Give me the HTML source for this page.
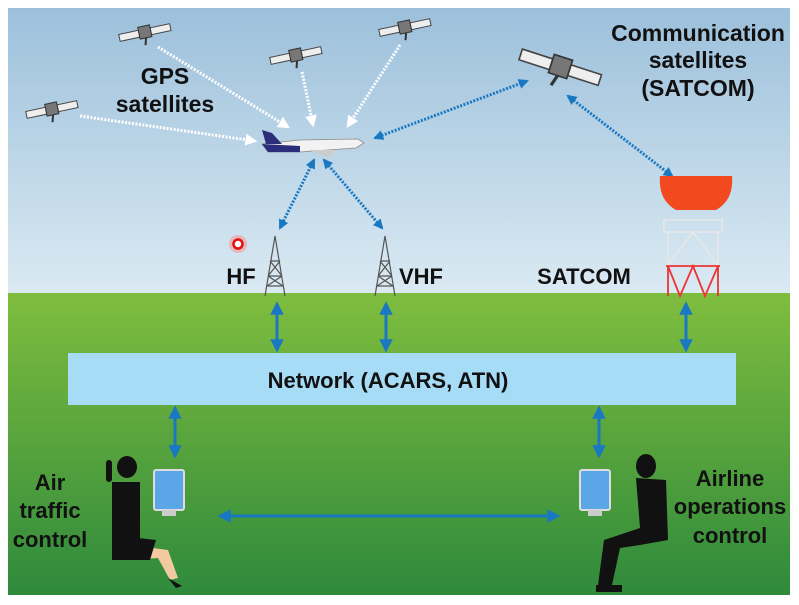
<!DOCTYPE html>
<html><head><meta charset="utf-8"><style>
html,body{margin:0;padding:0;background:#fff;}
svg{display:block}
text{font-family:"Liberation Sans",sans-serif;font-weight:bold;fill:#111;}
</style></head><body>
<svg width="799" height="605" viewBox="0 0 799 605" xmlns="http://www.w3.org/2000/svg">
<defs>
<linearGradient id="sky" x1="0" y1="0" x2="0" y2="1"><stop offset="0" stop-color="#9cc0db"/><stop offset="1" stop-color="#dbeaf3"/></linearGradient>
<linearGradient id="grass" x1="0" y1="0" x2="0" y2="1"><stop offset="0" stop-color="#7fbd3e"/><stop offset="1" stop-color="#2f8a3c"/></linearGradient>
<marker id="ab" viewBox="0 0 10 10" refX="8" refY="5" markerWidth="4.5" markerHeight="4.5" orient="auto-start-reverse"><path d="M0,0L10,5L0,10z" fill="#1a78c2"/></marker>
<marker id="aw" viewBox="0 0 10 10" refX="8" refY="5" markerWidth="4" markerHeight="4" orient="auto"><path d="M0,0L10,5L0,10z" fill="#fff"/></marker>
<marker id="sb" viewBox="0 0 10 10" refX="8" refY="5" markerWidth="3.4" markerHeight="3.4" orient="auto-start-reverse"><path d="M0,0L10,5L0,10z" fill="#1a78c2"/></marker>
<g id="sat"><rect x="-26" y="-4" width="20" height="7" fill="#eee" stroke="#444" stroke-width="1"/><rect x="6" y="-4" width="20" height="7" fill="#eee" stroke="#444" stroke-width="1"/><rect x="-6" y="-7" width="12" height="12" fill="#777" stroke="#333"/><line x1="0" y1="5" x2="-2" y2="12" stroke="#333" stroke-width="2"/></g>
<g id="tower" fill="none" stroke="#555" stroke-width="1.2"><path d="M-10,60L0,0L10,60M-7,40L7,40M-5,25L5,25M-8,50L8,50M-7,40L5,25M7,40L-5,25M-8,50L7,40M8,50L-7,40"/></g>
</defs>
<rect x="8" y="8" width="782" height="287" fill="url(#sky)"/>
<rect x="8" y="293" width="782" height="302" fill="url(#grass)"/>

<g stroke="#fff" stroke-width="3" stroke-dasharray="2 1.5" fill="none" marker-end="url(#aw)">
<line x1="80" y1="116" x2="255" y2="141"/>
<line x1="158" y1="47" x2="288" y2="127"/>
<line x1="302" y1="72" x2="313" y2="125"/>
<line x1="400" y1="45" x2="348" y2="126"/>
</g>
<use href="#sat" transform="translate(52,110) rotate(-12)"/>
<use href="#sat" transform="translate(145,33) rotate(-12)"/>
<use href="#sat" transform="translate(296,56) rotate(-12)"/>
<use href="#sat" transform="translate(405,28) rotate(-12)"/>
<use href="#sat" transform="translate(560,68) rotate(18) scale(1.6)"/>

<g stroke="#1a78c2" stroke-width="3" stroke-dasharray="2 1.5" fill="none" marker-start="url(#sb)" marker-end="url(#sb)">
<line x1="375" y1="138" x2="527" y2="81"/>
<line x1="568" y1="96" x2="672" y2="176"/>
<line x1="314" y1="160" x2="280" y2="228"/>
<line x1="324" y1="160" x2="382" y2="228"/>
</g>

<path d="M262,144 L300,140 L358,139 L364,143 L356,148 L300,152 L268,152 Z" fill="#f2f2f2" stroke="#888" stroke-width="0.8"/>
<path d="M262,144 L300,146 L300,152 L268,152 Z" fill="#2b2e7a"/>
<path d="M262,130 L272,133 L282,144 L266,144 Z" fill="#2b2e7a"/>
<path d="M308,150 L330,158 L334,150 Z" fill="#ccc"/>

<use href="#tower" transform="translate(275,236)"/>
<use href="#tower" transform="translate(385,236)"/>
<circle cx="238" cy="244" r="9" fill="#f59a9a" opacity="0.6"/>
<circle cx="238" cy="244" r="4.5" fill="#fff" stroke="#e01010" stroke-width="2.5"/>

<path d="M660,176 L732,176 Q734,200 716,210 L676,210 Q658,200 660,176 Z" fill="#f24a1e"/>
<g stroke="#e8e8e8" stroke-width="1.5" fill="none"><rect x="664" y="220" width="58" height="12"/><path d="M668,232L668,265M718,232L718,265M668,265L693,232L718,265"/></g>
<g stroke="#e33" stroke-width="1.8" fill="none"><path d="M666,266L720,266M668,266L668,296M718,266L718,296M668,266L680,296L693,266L705,296L718,266"/></g>

<text x="165" y="84" font-size="23" text-anchor="middle">GPS</text>
<text x="165" y="112" font-size="23" text-anchor="middle">satellites</text>
<text x="698" y="41" font-size="23" text-anchor="middle">Communication</text>
<text x="698" y="68" font-size="23" text-anchor="middle">satellites</text>
<text x="698" y="96" font-size="23" text-anchor="middle">(SATCOM)</text>
<text x="241" y="284" font-size="22" text-anchor="middle">HF</text>
<text x="421" y="284" font-size="22" text-anchor="middle">VHF</text>
<text x="584" y="284" font-size="22" text-anchor="middle">SATCOM</text>

<rect x="68" y="353" width="668" height="52" fill="#a6dcf5"/>
<text x="388" y="388" font-size="22" text-anchor="middle">Network (ACARS, ATN)</text>

<g stroke="#1a78c2" stroke-width="3" marker-start="url(#ab)" marker-end="url(#ab)">
<line x1="277" y1="304" x2="277" y2="350"/>
<line x1="386" y1="304" x2="386" y2="350"/>
<line x1="686" y1="304" x2="686" y2="350"/>
<line x1="175" y1="408" x2="175" y2="456"/>
<line x1="599" y1="408" x2="599" y2="456"/>
<line x1="220" y1="516" x2="558" y2="516"/>
</g>

<g>
<rect x="154" y="470" width="30" height="40" rx="2" fill="#5aa6e6" stroke="#ddd" stroke-width="2"/>
<rect x="162" y="510" width="14" height="6" fill="#ccc"/>
<rect x="580" y="470" width="30" height="40" rx="2" fill="#5aa6e6" stroke="#ddd" stroke-width="2"/>
<rect x="588" y="510" width="14" height="6" fill="#ccc"/>
<ellipse cx="127" cy="467" rx="10" ry="11" fill="#111"/>
<rect x="106" y="460" width="6" height="22" rx="3" fill="#111"/>
<path d="M112,482 L140,482 L140,550 L112,550 Z" fill="#111"/>
<path d="M130,545 L168,550 L178,578 L170,580 L158,558 L130,560Z" fill="#f2c9a0"/>
<path d="M112,535 L156,540 L150,560 L112,560 Z" fill="#111"/>
<path d="M168,578 L182,586 L176,588 Z" fill="#111"/>
<ellipse cx="646" cy="466" rx="10" ry="12" fill="#111"/>
<path d="M636,478 L666,480 L668,540 L640,545 L620,548 L612,585 L598,585 L604,540 L640,528 Z" fill="#111"/>
<path d="M596,585 L622,585 L622,592 L596,592 Z" fill="#111"/>
</g>
<text x="50" y="490" font-size="22" text-anchor="middle">Air</text>
<text x="50" y="518" font-size="22" text-anchor="middle">traffic</text>
<text x="50" y="547" font-size="22" text-anchor="middle">control</text>
<text x="730" y="486" font-size="22" text-anchor="middle">Airline</text>
<text x="730" y="514" font-size="22" text-anchor="middle">operations</text>
<text x="730" y="543" font-size="22" text-anchor="middle">control</text>
</svg>
</body></html>
